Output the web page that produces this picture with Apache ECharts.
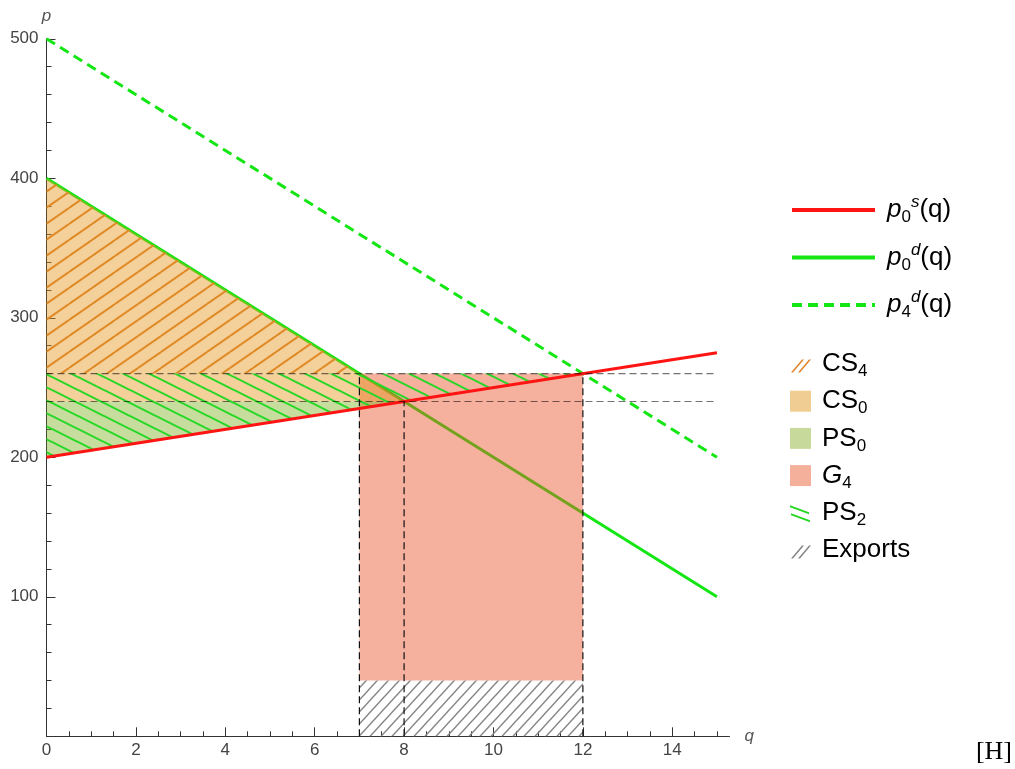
<!DOCTYPE html>
<html>
<head>
<meta charset="utf-8">
<title>Surplus areas</title>
<script src="https://cdn.jsdelivr.net/npm/echarts@6.0.0/dist/echarts.min.js"></script>
<style>
  html, body { margin: 0; padding: 0; background: #fff; }
  #chart { width: 1015px; height: 769px; }
</style>
</head>
<body>
<div id="chart"></div>
<script>
// straight lines, evaluated at both ends of the q range
const qEnds = [0, 15];
const supply0 = [200, 275];   // p0^s(q)
const demand0 = [400, 100];   // p0^d(q)
const demand4 = [500, 200];   // p4^d(q)

// shaded regions as [q, p] outlines
const cs4Area = [[0, 400], [7, 260], [0, 260]];
const cs0Area = [[0, 400], [8, 240], [0, 240]];
const ps0Area = [[0, 200], [8, 240], [0, 240]];
const g4Area = [[7, 40], [12, 40], [12, 260], [7, 260]];
const ps2Area = [[0, 200], [12, 260], [0, 260]];
const exportArea = [[7, 0], [12, 0], [12, 40], [7, 40]];

// dashed guides
const guideP = [260, 240];
const guideQ = [7, 8, 12];
const guideTop = [260, 240, 260];

// x ticks
const xMajorTicks = [0, 2, 4, 6, 8, 10, 12, 14];
const xMinorTicks = [0.5, 1, 1.5, 2.5, 3, 3.5, 4.5, 5, 5.5, 6.5, 7, 7.5, 8.5, 9, 9.5,
                     10.5, 11, 11.5, 12.5, 13, 13.5, 14.5, 15];

const FONT = '"Liberation Sans", Arial, sans-serif';

// repeating diagonal hatch tile
function hatch(color, w, h, up, lw) {
  const c = document.createElement('canvas');
  c.width = w; c.height = h;
  const ctx = c.getContext('2d');
  ctx.strokeStyle = color;
  ctx.lineWidth = lw;
  for (let i = -1; i <= 1; i++) {
    for (let j = -1; j <= 1; j++) {
      ctx.beginPath();
      if (up) {
        ctx.moveTo(i * w, h + j * h);
        ctx.lineTo(w + i * w, j * h);
      } else {
        ctx.moveTo(i * w, j * h);
        ctx.lineTo(w + i * w, h + j * h);
      }
      ctx.stroke();
    }
  }
  return { image: c, repeat: 'repeat' };
}

function polySeries(name, area, fill, z) {
  return {
    name: name,
    type: 'custom',
    coordinateSystem: 'cartesian2d',
    z: z,
    silent: true,
    data: [[0, 0]],
    renderItem: function (params, api) {
      return {
        type: 'polygon',
        shape: { points: area.map(function (pt) { return api.coord(pt); }) },
        style: { fill: fill, stroke: null }
      };
    }
  };
}

function lineData(ys) {
  return qEnds.map(function (q, i) { return [q, ys[i]]; });
}

// two thin strokes as a legend icon, box kept at 21x21
function strokeIcon(bars) {
  let d = 'M0,0L0,0ZM21,21L21,21Z';
  bars.forEach(function (b) {
    d += 'M' + b[0] + ',' + b[1] + 'L' + b[2] + ',' + b[3] +
         'L' + (b[2] + b[4]) + ',' + (b[3] + b[5]) +
         'L' + (b[0] + b[4]) + ',' + (b[1] + b[5]) + 'Z';
  });
  return 'path://' + d;
}

const legendText = {
  p0s: '{i|p}{sub|0}{supi|s}{n|(q)}',
  p0d: '{i|p}{sub|0}{supi|d}{n|(q)}',
  p4d: '{i|p}{sub|4}{supi|d}{n|(q)}',
  CS4: '{n|CS}{sub|4}',
  CS0: '{n|CS}{sub|0}',
  PS0: '{n|PS}{sub|0}',
  G4: '{i|G}{sub|4}',
  PS2: '{n|PS}{sub|2}',
  Exports: '{n|Exports}'
};

const rich = {
  n: { fontSize: 26, lineHeight: 32, fontFamily: FONT, color: '#000' },
  i: { fontSize: 26, lineHeight: 32, fontFamily: FONT, fontStyle: 'italic', color: '#000' },
  sub: { fontSize: 17, lineHeight: 19, fontFamily: FONT, verticalAlign: 'bottom', color: '#000' },
  supi: { fontSize: 17, lineHeight: 19, fontFamily: FONT, fontStyle: 'italic', verticalAlign: 'top', color: '#000' }
};

const chart = echarts.init(document.getElementById('chart'), null, { renderer: 'canvas' });

const series = [
  {
    name: 'p0d', type: 'line', z: 2, data: lineData(demand0), symbol: 'none', silent: true,
    lineStyle: { color: '#14e614', width: 3 }, itemStyle: { color: '#14e614' }
  },
  {
    name: 'p4d', type: 'line', z: 2, data: lineData(demand4), symbol: 'none', silent: true,
    lineStyle: { color: '#14e614', width: 3, type: [10, 6] }, itemStyle: { color: '#14e614' }
  },
  polySeries('G4', g4Area, 'rgba(232,80,40,0.45)', 3),
  polySeries('CS0', cs0Area, 'rgba(230,150,30,0.45)', 4),
  polySeries('PS0', ps0Area, 'rgba(130,180,40,0.45)', 4),
  polySeries('CS4', cs4Area, hatch('#e08a26', 23, 16, true, 2), 5),
  polySeries('PS2', ps2Area, hatch('#26d826', 26, 13, false, 2), 5),
  polySeries('Exports', exportArea, hatch('#858585', 11, 12, true, 1.5), 5),
  {
    name: 'p0s', type: 'line', z: 6, data: lineData(supply0), symbol: 'none', silent: true,
    lineStyle: { color: '#ff1414', width: 3 }, itemStyle: { color: '#ff1414' }
  }
];

guideP.forEach(function (p) {
  series.push({
    type: 'line', z: 7, silent: true, symbol: 'none',
    data: [[qEnds[0], p], [qEnds[1], p]],
    lineStyle: { color: 'rgba(0,0,0,0.55)', width: 1.2, type: [7, 4] }
  });
});
guideQ.forEach(function (q, i) {
  series.push({
    type: 'line', z: 7, silent: true, symbol: 'none',
    data: [[q, 0], [q, guideTop[i]]],
    lineStyle: { color: '#111', width: 1.2, type: [7, 4] }
  });
});

const option = {
  backgroundColor: '#fff',
  animation: false,
  grid: { left: 46.5, top: 38.8, right: 285.5, bottom: 32.7 },
  xAxis: [
    {
      type: 'value', min: 0, max: 15.28, position: 'bottom',
      axisLine: { show: true, lineStyle: { color: '#333', width: 1 } },
      axisTick: { show: true, inside: true, length: 5, customValues: xMinorTicks, lineStyle: { color: '#333' } },
      axisLabel: { show: false },
      splitLine: { show: false },
      name: 'q', nameLocation: 'end', nameGap: 15,
      nameTextStyle: { fontStyle: 'italic', fontSize: 17, color: '#555', fontFamily: FONT }
    },
    {
      type: 'value', min: 0, max: 15.28, position: 'bottom',
      axisLine: { show: false },
      axisTick: { show: true, inside: true, length: 9, customValues: xMajorTicks, lineStyle: { color: '#333' } },
      axisLabel: { customValues: xMajorTicks, fontSize: 17, color: '#444', margin: 6, fontFamily: FONT },
      splitLine: { show: false }
    }
  ],
  yAxis: {
    type: 'value', min: 0, max: 500, interval: 100,
    axisLine: { show: true, lineStyle: { color: '#333', width: 1 } },
    axisTick: { show: true, inside: true, length: 9, lineStyle: { color: '#333' } },
    minorTick: { show: true, splitNumber: 5, length: 5, lineStyle: { color: '#333' } },
    axisLabel: { showMinLabel: false, fontSize: 17, color: '#444', margin: 8, fontFamily: FONT },
    splitLine: { show: false },
    name: 'p', nameLocation: 'end', nameGap: 14,
    nameTextStyle: { fontStyle: 'italic', fontSize: 17, color: '#555', fontFamily: FONT }
  },
  legend: [
    {
      orient: 'vertical', left: 790, top: 194, padding: 0,
      itemWidth: 83, itemHeight: 14, itemGap: 15.5,
      selectedMode: false,
      lineStyle: { width: 4 },
      itemStyle: { color: 'rgba(0,0,0,0)', opacity: 0, borderWidth: 0 },
      data: ['p0s', 'p0d', 'p4d'],
      formatter: function (name) { return legendText[name]; },
      textStyle: { rich: rich, padding: [0, 0, 0, 7] }
    },
    {
      orient: 'vertical', left: 790, top: 351, padding: 0,
      itemWidth: 21, itemHeight: 21, itemGap: 8.2,
      selectedMode: false,
      data: [
        { name: 'CS4', icon: strokeIcon([[1, 19, 12, 6, 2, 0], [8, 19, 19, 6, 2, 0]]), itemStyle: { color: '#e0842a', borderWidth: 0 } },
        { name: 'CS0', icon: 'rect', itemStyle: { color: '#f0cd92', borderWidth: 0 } },
        { name: 'PS0', icon: 'rect', itemStyle: { color: '#c8da9b', borderWidth: 0 } },
        { name: 'G4', icon: 'rect', itemStyle: { color: '#f4b09b', borderWidth: 0 } },
        { name: 'PS2', icon: strokeIcon([[0, 3, 19, 10, 0, 2], [1, 11, 20, 18, 0, 2]]), itemStyle: { color: '#26d826', borderWidth: 0 } },
        { name: 'Exports', icon: strokeIcon([[1, 19, 12, 6, 2, 0], [8, 19, 19, 6, 2, 0]]), itemStyle: { color: '#858585', borderWidth: 0 } }
      ],
      formatter: function (name) { return legendText[name]; },
      textStyle: { rich: rich, padding: [0, 0, 0, 6] }
    }
  ],
  graphic: [
    {
      type: 'text', right: 3, bottom: 4,
      style: { text: '[H]', font: '26px "Liberation Serif", "DejaVu Serif", serif', fill: '#000' }
    }
  ],
  series: series
};

chart.setOption(option);
</script>
</body>
</html>
